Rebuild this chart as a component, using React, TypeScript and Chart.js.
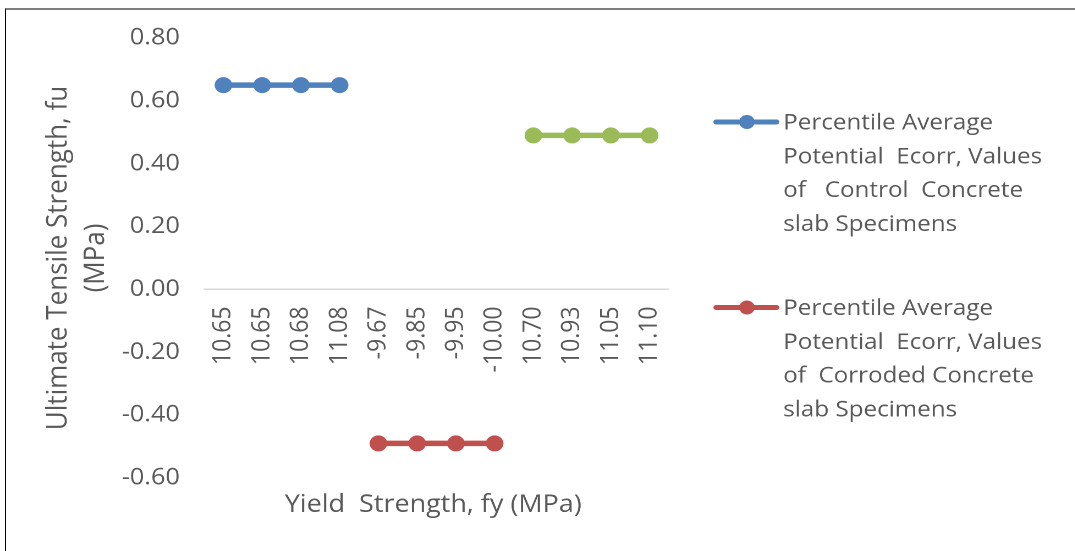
import React, { useEffect, useRef } from 'react';
import { Chart, registerables } from 'chart.js';

Chart.register(...registerables);

// Category labels along the horizontal axis (yield strength, MPa)
const categories = ['10.65', '10.65', '10.68', '11.08', '-9.67', '-9.85', '-9.95', '-10.00', '10.70', '10.93', '11.05', '11.10'];

// Series values (ultimate tensile strength, MPa)
const controlValues = [0.65, 0.65, 0.65, 0.65, null, null, null, null, null, null, null, null];
const corrodedValues = [null, null, null, null, -0.49, -0.49, -0.49, -0.49, null, null, null, null];
const series3Values = [null, null, null, null, null, null, null, null, 0.49, 0.49, 0.49, 0.49];

// Value axis range
const yRange = [-0.6, 0.8];
const yStep = 0.2;

// Text
const controlLegend = ['Percentile Average', 'Potential  Ecorr, Values', 'of   Control  Concrete', 'slab Specimens'];
const corrodedLegend = ['Percentile Average', 'Potential  Ecorr, Values', 'of  Corroded Concrete', 'slab Specimens'];
const yTitle = ['Ultimate Tensile Strength, fu', '(MPa)'];
const xTitle = 'Yield  Strength, fy (MPa)';

const BLUE = '#4F81BD';
const RED = '#C0504D';
const GREEN = '#9BBB59';
const TEXT = '#595959';
const FONT = '"Open Sans", "Noto Sans", sans-serif';

// Horizontal scale factor applied to the whole drawing
const STRETCH = 1.1;
const WIDTH = 1075;
const HEIGHT = 551;
const CANVAS_W = Math.round(WIDTH / STRETCH);

const sideLegend = {
  id: 'sideLegend',
  afterDraw(chart: any) {
    const { ctx } = chart;
    const entries = chart.data.datasets
      .filter((d: any) => d.legendLines)
      .map((d: any, i: number) => ({ color: d.borderColor, lines: d.legendLines, top: i === 0 ? 129.5 : 315 }));
    ctx.save();
    ctx.font = `22px ${FONT}`;
    ctx.textAlign = 'left';
    ctx.textBaseline = 'alphabetic';
    for (const e of entries) {
      const my = e.top - 7.5;
      ctx.strokeStyle = e.color;
      ctx.lineWidth = 5;
      ctx.lineCap = 'round';
      ctx.beginPath();
      ctx.moveTo(651, my);
      ctx.lineTo(706, my);
      ctx.stroke();
      ctx.fillStyle = e.color;
      ctx.beginPath();
      ctx.arc(679, my, 7, 0, Math.PI * 2);
      ctx.fill();
      ctx.fillStyle = TEXT;
      e.lines.forEach((line: string, k: number) => {
        ctx.fillText(line, 712, e.top + k * 33.8);
      });
    }
    ctx.restore();
  },
};

const bottomTitle = {
  id: 'bottomTitle',
  afterDraw(chart: any) {
    const { ctx, chartArea } = chart;
    ctx.save();
    ctx.font = `24.5px ${FONT}`;
    ctx.fillStyle = TEXT;
    ctx.textAlign = 'center';
    ctx.textBaseline = 'alphabetic';
    ctx.fillText(xTitle, (chartArea.left + chartArea.right) / 2 - 3, 512);
    ctx.restore();
  },
};

export default function App() {
  const canvasRef = useRef<HTMLCanvasElement | null>(null);

  useEffect(() => {
    const canvas = canvasRef.current;
    if (!canvas) return;
    const lineStyle = (color: string) => ({
      borderColor: color,
      backgroundColor: color,
      pointBackgroundColor: color,
      pointBorderColor: color,
      borderWidth: 5.5,
      pointRadius: 8,
      pointBorderWidth: 0,
      pointHoverRadius: 8,
      tension: 0,
      spanGaps: false,
    });
    const chart = new Chart(canvas, {
      type: 'line',
      data: {
        labels: categories,
        datasets: [
          { label: controlLegend.join(' '), data: controlValues, legendLines: controlLegend, ...lineStyle(BLUE) } as any,
          { label: corrodedLegend.join(' '), data: corrodedValues, legendLines: corrodedLegend, ...lineStyle(RED) } as any,
          { label: 'Series3', data: series3Values, ...lineStyle(GREEN) } as any,
        ],
      },
      options: {
        animation: false,
        responsive: false,
        devicePixelRatio: 2,
        layout: { padding: { left: 10, top: 38, right: CANVAS_W - 608.2, bottom: 73 } },
        plugins: {
          legend: { display: false },
          tooltip: { enabled: false },
          title: { display: false },
        },
        scales: {
          x: {
            type: 'category',
            position: { y: 0 } as any,
            offset: true,
            afterFit(scale: any) {
              scale.height = 0;
            },
            grid: { display: true, drawOnChartArea: false, drawTicks: false, color: 'rgba(0,0,0,0)' },
            border: { display: true, color: '#d9d9d9', width: 1.5 },
            ticks: {
              autoSkip: false,
              minRotation: 90,
              maxRotation: 90,
              padding: 17,
              color: TEXT,
              font: { family: FONT, size: 23 },
            },
          },
          y: {
            min: yRange[0],
            max: yRange[1],
            afterFit(scale: any) {
              scale.width = 175.5;
            },
            grid: { display: false, drawTicks: false },
            border: { display: false },
            ticks: {
              stepSize: yStep,
              padding: 22,
              color: TEXT,
              font: { family: FONT, size: 23 },
              callback: (v: any) => {
                const n = Math.abs(Number(v)) < 1e-9 ? 0 : Number(v);
                return n.toFixed(2);
              },
            },
            title: {
              display: true,
              text: yTitle,
              color: TEXT,
              font: { family: FONT, size: 26, lineHeight: '34px' },
              padding: { top: 26, bottom: 0 },
            },
          },
        },
      },
      plugins: [sideLegend, bottomTitle],
    });
    return () => chart.destroy();
  }, []);

  return (
    <div
      style={{
        position: 'fixed',
        left: 0,
        top: 0,
        width: WIDTH,
        height: HEIGHT,
        background: '#fff',
        overflow: 'hidden',
      }}
    >
      <div style={{ position: 'absolute', left: 0, top: 0, transform: `scaleX(${STRETCH})`, transformOrigin: '0 0' }}>
        <canvas ref={canvasRef} width={CANVAS_W} height={HEIGHT} />
      </div>
      <div
        style={{
          position: 'absolute',
          left: 5,
          top: 8,
          width: WIDTH,
          height: HEIGHT,
          borderTop: '2px solid #7f7f7f',
          borderLeft: '1px solid #000',
          boxSizing: 'border-box',
          pointerEvents: 'none',
        }}
      />
    </div>
  );
}
